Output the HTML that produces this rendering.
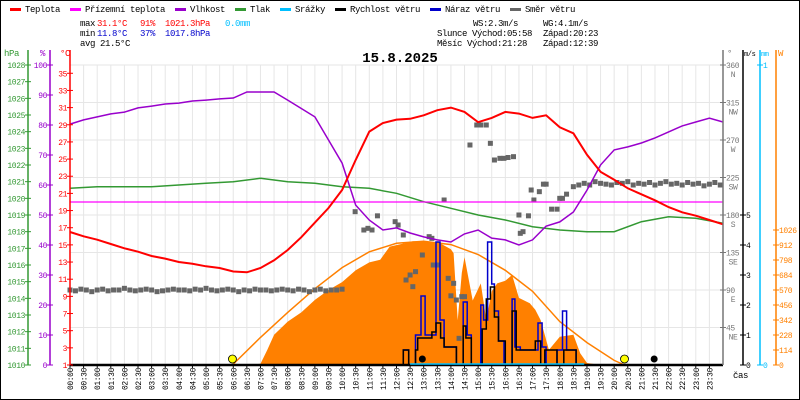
<!DOCTYPE html>
<html><head><meta charset="utf-8"><style>
html,body{margin:0;padding:0;background:#fff}
svg{display:block}
text{font-family:"Liberation Mono",monospace;font-size:9px;letter-spacing:-0.4px}
</style></head><body>
<svg id="c" width="800" height="400" viewBox="0 0 800 400" xmlns="http://www.w3.org/2000/svg">
<rect x="0.5" y="0.5" width="799" height="399" fill="#fff" stroke="#000"/>
<g id="grid"></g>
<g id="series"></g>
<g id="axes"></g>
<g>
<rect x="10" y="8" width="11" height="3" fill="#f00"/><text x="25" y="12">Teplota</text>
<rect x="70" y="8" width="11" height="3" fill="#f0f"/><text x="85" y="12">Přízemní teplota</text>
<rect x="175" y="8" width="11" height="3" fill="#90c"/><text x="190" y="12">Vlhkost</text>
<rect x="235" y="8" width="11" height="3" fill="#393"/><text x="250" y="12">Tlak</text>
<rect x="280" y="8" width="11" height="3" fill="#00bfff"/><text x="295" y="12">Srážky</text>
<rect x="335" y="8" width="11" height="3" fill="#000"/><text x="350" y="12">Rychlost větru</text>
<rect x="430" y="8" width="11" height="3" fill="#00c"/><text x="445" y="12">Náraz větru</text>
<rect x="510" y="8" width="11" height="3" fill="#666"/><text x="525" y="12">Směr větru</text>
</g>
<g>
<text x="80" y="26">max</text><text x="97" y="26" fill="#f00">31.1°C</text><text x="140" y="26" fill="#f00">91%</text><text x="165" y="26" fill="#f00">1021.3hPa</text><text x="225" y="26" fill="#00bfff">0.0mm</text>
<text x="80" y="36">min</text><text x="97" y="36" fill="#00c">11.8°C</text><text x="140" y="36" fill="#00c">37%</text><text x="165" y="36" fill="#00c">1017.8hPa</text>
<text x="80" y="46">avg 21.5°C</text>
<text x="473" y="26">WS:2.3m/s</text><text x="543" y="26">WG:4.1m/s</text>
<text x="437" y="36">Slunce Východ:05:58</text><text x="543" y="36">Západ:20:23</text>
<text x="437" y="46">Měsíc  Východ:21:28</text><text x="543" y="46">Západ:12:39</text>
</g>
<text x="400" y="62" text-anchor="middle" style="font-size:14px;font-weight:bold;letter-spacing:0">15.8.2025</text>
</svg>
<script>
// ---- data ----
const halfHours = [0,0.5,1,1.5,2,2.5,3,3.5,4,4.5,5,5.5,6,6.5,7,7.5,8,8.5,9,9.5,10,10.5,11,11.5,12,12.5,13,13.5,14,14.5,15,15.5,16,16.5,17,17.5,18,18.5,19,19.5,20,20.5,21,21.5,22,22.5,23,23.5,24];
const tempValues = [16.5,16.0,15.6,15.1,14.6,14.2,13.7,13.4,13.0,12.8,12.5,12.3,11.9,11.8,12.3,13.2,14.4,15.9,17.6,19.3,21.4,24.9,28.2,29.2,29.6,29.7,30.1,30.7,31.0,30.5,29.3,29.8,30.5,30.3,29.8,30.1,28.7,28.0,25.5,23.5,22.6,21.6,20.9,20.2,19.4,18.8,18.4,17.9,17.4];
const humValues = [80.3,81.7,82.7,83.7,84.3,85.7,86.3,87,87.3,88,88.3,88.7,89,91,91,91,88.3,85.5,82.7,75,67.3,53.3,48.3,45,45.7,44,42.7,41.7,41,43.7,45,42.3,41.7,40,41.7,46.3,47.7,51,58.3,66.7,71.7,72.7,74,75.7,77.7,79.7,81,82.3,81];
const hours = [0,1,2,3,4,5,6,7,8,9,10,11,12,13,14,15,16,17,18,19,20,21,22,23,24];
const pressValues = [1020.6,1020.7,1020.7,1020.7,1020.8,1020.9,1021.0,1021.2,1021.0,1020.9,1020.7,1020.6,1020.3,1019.8,1019.4,1019.0,1018.7,1018.3,1018.1,1018.0,1018.0,1018.6,1018.9,1018.8,1018.5];
const feelTemp = 20.0;
const solarT = [6.5,7,7.25,7.5,8,8.5,9,9.5,10,10.5,11,11.4,11.75,12.2,12.6,13.0,13.6,14.0,14.1,14.25,14.4,14.5,14.8,15.1,15.3,15.5,15.7,16.0,16.25,16.5,16.9,17.1,17.3,17.6,18.0,18.5,18.75,19.0,19.5];
const solarV = [0,10,115,230,330,400,495,570,630,720,780,800,900,920,940,940,925,880,850,340,700,820,490,620,340,560,620,640,685,510,470,420,340,115,215,230,90,15,0];
const theoT = [5.97,7,8,9,10,11,12,13,14,15,16,17,18,19,20,20.38];
const theoV = [0,210,400,580,740,860,925,940,915,840,720,560,330,170,35,0];
const windT = [0,12.25,12.45,12.7,12.78,13.0,13.3,13.45,13.62,13.75,14.2,14.45,14.55,14.75,15.15,15.3,15.45,15.6,15.75,16.0,16.25,16.4,16.55,16.95,17.1,17.3,17.45,17.9,18.15,18.3,18.6,24];
const windV = [0,0.5,0,0.5,0.9,0.9,1.1,1.4,0.9,0.6,0,1.3,0.9,0,1.2,2.2,2.6,1.6,0.8,0,1.8,0.5,0.5,0.5,0.8,0,0.5,0,0.5,0.5,0,0];
const gustT = [0,12.25,12.45,12.7,12.9,13.05,13.45,13.6,13.75,14.2,14.45,14.6,14.75,15.1,15.2,15.35,15.5,15.6,15.75,15.95,16.25,16.35,16.55,17.2,17.35,17.5,17.9,18.1,18.25,18.35,18.6,24];
const gustV = [0,0.5,0,1.0,2.3,1.0,4.1,1.5,0.6,0,2.1,1.0,0,2.0,1.5,4.1,2.7,1.8,0.8,0,2.2,0.6,0.5,1.4,0.6,0,0.5,1.8,0.5,0.5,0,0];
const dirT = [
 0,0.2,0.4,0.6,0.8,1,1.2,1.4,1.6,1.8, 2,2.2,2.4,2.6,2.8,3,3.2,3.4,3.6,3.8, 4,4.2,4.4,4.6,4.8,5,5.2,5.4,5.6,5.8, 6,6.2,6.4,6.6,6.8,7,7.2,7.4,7.6,7.8, 8,8.2,8.4,8.6,8.8,9,9.2,9.4,9.6,9.8, 10,
 10.48,10.8,10.95,11.1,11.3,11.95,12.06,12.25,12.35,12.5, 12.6,12.7,12.95,13.2,13.3,13.35,13.5,13.75,13.9,14.0, 14.1,14.2,14.3,14.4,14.5,14.7,14.95,15.1,15.3,15.45, 15.6,15.8,15.95,16.1,16.3,16.5,16.55,16.65,16.85,16.95, 17.05,17.25,17.4,17.5,17.7,17.9,18.0,18.1,18.25,18.5,
 18.7,18.9,19.1,19.3,19.5,19.7,19.9,20.1,20.3,20.5, 20.7,20.9,21.1,21.3,21.5,21.7,21.9,22.1,22.3,22.5, 22.7,22.9,23.1,23.3,23.5,23.7,23.9];
const dirV = [
 90,89,91,90,88,90,91,89,90,90, 92,90,89,90,91,90,88,89,90,91, 90,90,89,91,90,92,90,89,90,91, 90,88,90,89,91,90,90,89,90,91, 90,89,91,90,88,90,91,89,90,90, 91,
 184,162,164,162,179,172,168,156,102,108, 94,112,132,154,152,120,120,198,104,83, 98,78,32,82,82,264,288,288,288,266, 246,248,248,249,250,180,158,160,179,210, 198,208,217,217,187,187,200,200,205,214,
 216,218,216,220,218,217,216,219,218,220, 216,218,217,219,216,218,220,217,218,216, 219,217,218,215,217,219,216];
const precipT = [12.5,18.9];
const precipV = [0,0];
const sunEvents = [5.97,20.38];
const moonEvents = [12.95,21.47];

// ---- scales ----
const X0=70, X1=723, YT=65, YB=365;
const x = t => X0 + t*(X1-X0)/24;
const yT = v => YB - (v-1)*8.58;
const yH = v => YB - v*3;
const yP = v => YB - (v-1010)*300/18;
const yD = v => YB - v*300/360;
const yW = v => YB - v*30;
const yS = v => YB - v*300/2280;
const NS='http://www.w3.org/2000/svg';
function mk(tag, attrs, parent){const e=document.createElementNS(NS,tag);for(const k in attrs)e.setAttribute(k,attrs[k]);parent.appendChild(e);return e;}
const G=document.getElementById('grid'), S=document.getElementById('series'), A=document.getElementById('axes');

for(let i=0;i<=48;i++){const l=mk('line',{x1:x(i/2),x2:x(i/2),y1:YT,y2:YB,stroke:'#e6e6e6'},G);

}
for(let i=0;i<=8;i++){const yy=YT+i*37.5;const l=mk('line',{x1:X0,x2:X1,y1:yy,y2:yy,stroke:'#e6e6e6'},G);

}

function pts(ts,vs,fy){return ts.map((t,i)=>x(t).toFixed(1)+','+fy(vs[i]).toFixed(1)).join(' ');}
function step(ts,vs,fy){let d='M'+x(ts[0])+','+fy(vs[0]);for(let i=1;i<ts.length;i++){d+=' H'+x(ts[i]).toFixed(1)+' V'+fy(vs[i]).toFixed(1);}return d;}

const sa=mk('polygon',{points:x(solarT[0])+','+YB+' '+pts(solarT,solarV,yS)+' '+x(solarT[solarT.length-1])+','+YB,fill:'#ff8000'},S);


const th=mk('polyline',{points:pts(theoT,theoV,yS),fill:'none',stroke:'#ff8000','stroke-width':1.5},S);


const n=Math.min(dirT.length,dirV.length);
for(let i=0;i<n;i++){const r=mk('rect',{x:x(dirT[i])-2.5,y:yD(dirV[i])-2.5,width:5,height:5,fill:'#666'},S);

}
const pl=mk('polyline',{points:pts(hours,pressValues,yP),fill:'none',stroke:'#393','stroke-width':1.5},S);


const fl=mk('line',{x1:X0,x2:X1,y1:yT(feelTemp),y2:yT(feelTemp),stroke:'#f0f','stroke-width':1.2},S);


const hl=mk('polyline',{points:pts(halfHours,humValues,yH),fill:'none',stroke:'#90c','stroke-width':1.5},S);


const tl=mk('polyline',{points:pts(halfHours,tempValues,yT),fill:'none',stroke:'#f00','stroke-width':2},S);


const gl=mk('path',{d:step(gustT,gustV,yW),fill:'none',stroke:'#00c','stroke-width':1.5},S);


const wl=mk('path',{d:step(windT,windV,yW),fill:'none',stroke:'#000','stroke-width':1.5},S);


const bl=mk('line',{x1:X0,x2:X1,y1:YB,y2:YB,stroke:'#000','stroke-width':2.5},S);


const pr=mk('line',{x1:x(precipT[0]),x2:x(precipT[1]),y1:YB-1-precipV[0],y2:YB-1-precipV[1],stroke:'#00bfff','stroke-width':1.5},S);


sunEvents.forEach(t=>{const c=mk('circle',{cx:x(t),cy:359,r:4,fill:'#ff0',stroke:'#000','stroke-width':0.8},S);

});
moonEvents.forEach(t=>{const c=mk('circle',{cx:x(t),cy:359,r:3.5,fill:'#000'},S);

});

function axis(xx,col,y0){const l=mk('line',{x1:xx,x2:xx,y1:y0,y2:YB,stroke:col,'stroke-width':1.5},A);

}
function lab(xx,yy,txt,col,anchor,fs){const t=mk('text',{x:xx,y:yy,fill:col,'text-anchor':anchor},A);if(fs)t.style.fontSize=fs;t.textContent=txt;

return t;}
function tick(xx,yy,col){mk('line',{x1:xx-3,x2:xx+3,y1:yy,y2:yy,stroke:col},A);}
axis(28,'#393',50);axis(50,'#90c',50);axis(70,'#f00',50);
axis(723,'#777',50);axis(743,'#000',50);axis(760,'#00bfff',50);axis(776,'#ff8000',50);
lab(4,56,'hPa','#393','start');lab(40,56,'%','#90c','start');lab(60,56,'°C','#f00','start');
lab(727,56,'°','#777','start');lab(744,56,'m/s','#000','start','7px');lab(761,56,'mm','#00bfff','start','7px');lab(778,56,'W','#ff8000','start');
for(let v=1010;v<=1028;v++){tick(28,yP(v),'#393');lab(25,yP(v)+3,String(v),'#393','end','8px');}
for(let v=0;v<=100;v+=10){tick(50,yH(v),'#90c');lab(47,yH(v)+3,String(v),'#90c','end','8px');}
for(let v=1;v<=35;v+=2){tick(70,yT(v),'#f00');lab(67,yT(v)+3,String(v),'#f00','end','8px');}
const dirs=['NE','E','SE','S','SW','W','NW','N'];
for(let i=1;i<=8;i++){const v=i*45;tick(723,yD(v),'#777');lab(726,yD(v)+3,String(v),'#777','start','8px');lab(733,yD(v)+12,dirs[i-1],'#777','middle','8px');}
for(let v=0;v<=5;v++){tick(743,yW(v),'#000');lab(746,yW(v)+3,String(v),'#000','start','8px');}
for(let v=0;v<=1;v++){const yy=YB-v*300;tick(760,yy,'#00bfff');lab(763,yy+3,String(v),'#00bfff','start','8px');}
for(let v=0;v<=1026;v+=114){tick(776,yS(v),'#ff8000');lab(779,yS(v)+3,String(v),'#ff8000','start','8px');}
for(let i=0;i<48;i++){const h=Math.floor(i/2),m=i%2?'30':'00';const xx=x(i/2);
mk('line',{x1:xx,x2:xx,y1:YB,y2:YB+3,stroke:'#000'},A);
const t=mk('text',{x:0,y:0,transform:'translate('+(xx+3)+',368) rotate(-90)','text-anchor':'end',fill:'#000'},A);
t.style.fontSize='8px';
t.textContent=(h<10?'0':'')+h+':'+m;

}
lab(733,378,'čas','#000','start');
</script>
</body></html>
